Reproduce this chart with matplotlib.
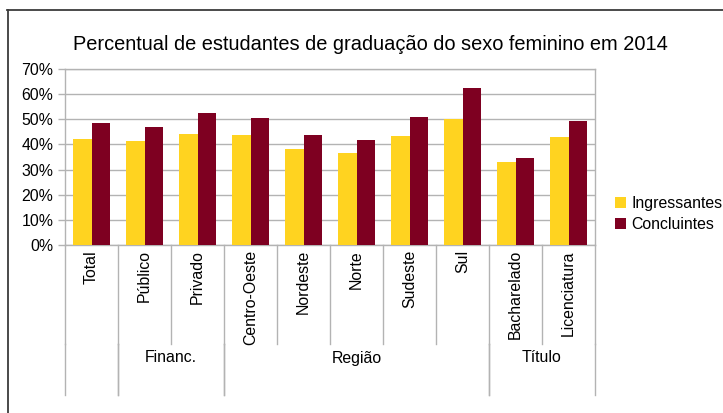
import matplotlib
matplotlib.use("Agg")
import matplotlib.pyplot as plt
import numpy as np
from matplotlib.transforms import blended_transform_factory
from matplotlib.lines import Line2D
from matplotlib.patches import Patch

plt.rcParams['font.family'] = ['Liberation Sans', 'DejaVu Sans']

title = "Percentual de estudantes de graduação do sexo feminino em 2014"
categories = ["Total", "Público", "Privado", "Centro-Oeste", "Nordeste", "Norte",
              "Sudeste", "Sul", "Bacharelado", "Licenciatura"]
ingressantes = [42.2, 41.4, 44.2, 43.8, 38.2, 36.6, 43.4, 50.1, 33.0, 43.0]
concluintes = [48.5, 46.9, 52.5, 50.5, 43.8, 41.8, 50.9, 62.4, 34.6, 49.3]
groups = [("", 0, 1), ("Financ.", 1, 3), ("Região", 3, 8), ("Título", 8, 10)]
series_names = ["Ingressantes", "Concluintes"]
colors = ["#ffd320", "#7e0021"]
yticks = [0, 10, 20, 30, 40, 50, 60, 70]

W, H = 723, 413
FS = 11.4
fig = plt.figure(figsize=(W / 100, H / 100), dpi=100)
ax = fig.add_axes([65 / W, (H - 245) / H, 530 / W, 176 / H])

x = np.arange(len(categories))
bw = 0.34
ax.bar(x - bw / 2, ingressantes, width=bw, color=colors[0], zorder=3)
ax.bar(x + bw / 2, concluintes, width=bw, color=colors[1], zorder=3)

grid_c = "#b3b3b3"
ax.set_xlim(-0.5, len(categories) - 0.5)
ax.set_ylim(0, 70)
ax.set_yticks(yticks)
ax.set_yticklabels([f"{t}%" for t in yticks], fontsize=FS, color="#000000")
ax.yaxis.grid(True, color=grid_c, lw=1, zorder=0)
ax.tick_params(axis='y', length=5, width=1, color=grid_c, pad=3.2)
ax.set_xticks([])
for s in ax.spines.values():
    s.set_color(grid_c)
    s.set_linewidth(1)

tr = blended_transform_factory(ax.transData, ax.transAxes)
row1 = -99 / 176
row2 = -150 / 176
for b in np.arange(-0.5, len(categories), 1.0):
    ax.plot([b, b], [0, row1], transform=tr, color=grid_c, lw=1, clip_on=False)
for i, c in enumerate(categories):
    ax.text(i, -5 / 176, c, transform=tr, rotation=90, ha='center', va='top',
            fontsize=FS)
for name, s, e in groups:
    for b in (s - 0.5, e - 0.5):
        ax.plot([b, b], [row1, row2], transform=tr, color=grid_c, lw=1, clip_on=False)
    if name:
        ax.text((s + e - 1) / 2, -113 / 176, name, transform=tr, ha='center',
                va='center', fontsize=FS)

fig.text(370 / W, 1 - 44 / H, title, ha='center', va='center', fontsize=14.4)

handles = [Patch(facecolor=colors[0]), Patch(facecolor=colors[1])]
fig.legend(handles, series_names, loc='center left',
           bbox_to_anchor=(609 / W, 1 - 214 / H), frameon=False, fontsize=FS,
           handlelength=0.65, handleheight=0.65, handletextpad=0.35, labelspacing=0.4,
           borderaxespad=0)

fig.add_artist(Line2D([7.5 / W, 7.5 / W], [0, 1 - 9.5 / H], transform=fig.transFigure,
                      color="#3c3c3c", lw=1.3))
fig.add_artist(Line2D([7 / W, 1], [1 - 9.5 / H, 1 - 9.5 / H], transform=fig.transFigure,
                      color="#3c3c3c", lw=1.3))

fig.savefig("out.png", dpi=100)
